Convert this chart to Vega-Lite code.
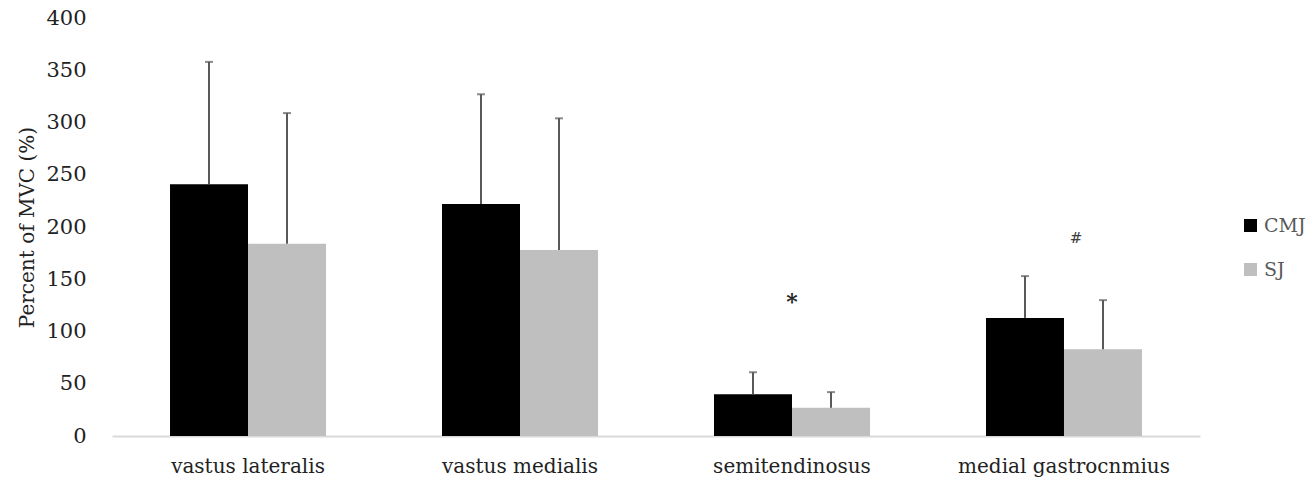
{
  "$schema": "https://vega.github.io/schema/vega-lite/v6.json",
  "width": 1088,
  "height": 418,
  "autosize": {"type": "none"},
  "padding": {"left": 112, "top": 18, "right": 110, "bottom": 44},
  "background": "white",
  "config": {"view": {"stroke": null}, "font": "DejaVu Serif"},
  "datasets": {
    "bars": [
      {"muscle": "vastus lateralis", "group": "CMJ", "value": 241, "upper": 358},
      {"muscle": "vastus lateralis", "group": "SJ", "value": 184, "upper": 309},
      {"muscle": "vastus medialis", "group": "CMJ", "value": 222, "upper": 327},
      {"muscle": "vastus medialis", "group": "SJ", "value": 178, "upper": 304},
      {"muscle": "semitendinosus", "group": "CMJ", "value": 40, "upper": 61},
      {"muscle": "semitendinosus", "group": "SJ", "value": 27, "upper": 42},
      {"muscle": "medial gastrocnmius", "group": "CMJ", "value": 113, "upper": 153},
      {"muscle": "medial gastrocnmius", "group": "SJ", "value": 83, "upper": 130}
    ],
    "notes": [
      {"muscle": "semitendinosus", "label": "*", "pos": 133},
      {"muscle": "medial gastrocnmius", "label": "#", "pos": 189}
    ]
  },
  "encoding": {
    "x": {
      "field": "muscle",
      "type": "nominal",
      "sort": ["vastus lateralis", "vastus medialis", "semitendinosus", "medial gastrocnmius"],
      "scale": {"paddingInner": 0.4265, "paddingOuter": 0.2133},
      "axis": {
        "title": null,
        "labelAngle": 0,
        "labelFontSize": 20,
        "labelColor": "#222222",
        "labelPadding": 20,
        "labelLimit": 0,
        "ticks": false,
        "domain": true,
        "domainColor": "#d9d9d9",
        "domainWidth": 2
      }
    }
  },
  "layer": [
    {
      "data": {"name": "bars"},
      "mark": {"type": "bar"},
      "encoding": {
        "xOffset": {"field": "group", "type": "nominal", "sort": ["CMJ", "SJ"]},
        "y": {
          "field": "value",
          "type": "quantitative",
          "scale": {"domain": [0, 400]},
          "axis": {
            "values": [0, 50, 100, 150, 200, 250, 300, 350, 400],
            "ticks": false,
            "domain": false,
            "grid": false,
            "labelFontSize": 21,
            "labelColor": "#222222",
            "labelPadding": 26,
            "title": "Percent of MVC (%)",
            "titleFontSize": 20,
            "titleFontWeight": "normal",
            "titleColor": "#222222",
            "titleX": -85,
            "titleY": 209,
            "titleAngle": -90,
            "titleAlign": "center",
            "titleBaseline": "middle"
          }
        },
        "color": {
          "field": "group",
          "type": "nominal",
          "scale": {"domain": ["CMJ", "SJ"], "range": ["#000000", "#bfbfbf"]},
          "legend": {
            "title": null,
            "orient": "none",
            "legendX": 1129,
            "legendY": 198,
            "symbolType": "square",
            "symbolSize": 169,
            "symbolStrokeWidth": 0,
            "labelFontSize": 19,
            "labelColor": "#595959",
            "labelOffset": 4,
            "labelLimit": 0,
            "rowPadding": 24
          }
        }
      }
    },
    {
      "data": {"name": "bars"},
      "mark": {"type": "rule", "color": "#595959", "strokeWidth": 2},
      "encoding": {
        "xOffset": {"field": "group", "type": "nominal", "sort": ["CMJ", "SJ"]},
        "y": {"field": "value", "type": "quantitative"},
        "y2": {"field": "upper"}
      }
    },
    {
      "data": {"name": "bars"},
      "mark": {"type": "tick", "color": "#595959", "thickness": 2, "size": 8},
      "encoding": {
        "xOffset": {"field": "group", "type": "nominal", "sort": ["CMJ", "SJ"]},
        "y": {"field": "upper", "type": "quantitative"}
      }
    },
    {
      "data": {"name": "notes"},
      "transform": [{"filter": "datum.label === '*'"}],
      "mark": {"type": "text", "fontSize": 22, "fontWeight": "bold", "color": "#262626", "baseline": "middle", "dy": 5},
      "encoding": {
        "y": {"field": "pos", "type": "quantitative"},
        "text": {"field": "label"}
      }
    },
    {
      "data": {"name": "notes"},
      "transform": [{"filter": "datum.label === '#'"}],
      "mark": {"type": "text", "fontSize": 15, "color": "#404040", "baseline": "middle", "dx": 12},
      "encoding": {
        "y": {"field": "pos", "type": "quantitative"},
        "text": {"field": "label"}
      }
    }
  ]
}
